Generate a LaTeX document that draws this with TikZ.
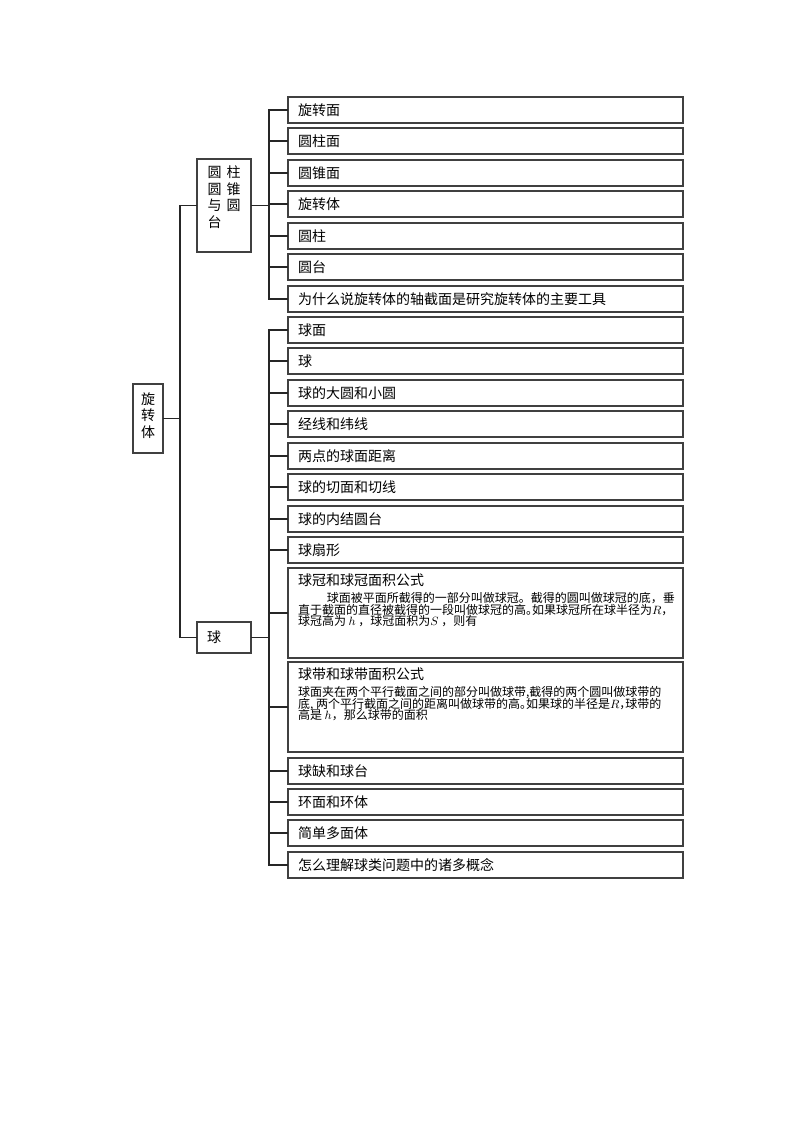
\documentclass[tikz,border=0pt]{standalone}
\usepackage{fontspec}
\setmainfont{Noto Sans CJK SC}
\newcommand\halfp[1]{{\addfontfeature{RawFeature=+halt}#1}}
\newcommand\parafont{\fontsize{9pt}{8.8pt}\selectfont\lineskiplimit=-20pt\relax}
\newcommand\titlefont{\fontsize{10.5pt}{12pt}\selectfont}
\tikzset{
  box/.style={draw=black!75, line width=1pt, outer sep=0pt, rectangle},
  item/.style={box, anchor=north west, minimum width=296.25pt, minimum height=19.5pt,
    inner xsep=7.5pt, inner ysep=0pt, text width=281.25pt, align=left,
    font=\fontsize{10.5pt}{12pt}\selectfont},
  pbox/.style={box, anchor=north west, inner xsep=7.5pt, inner ysep=0pt},
  link/.style={draw=black!85, line width=1pt},
}
\begin{document}
\begin{tikzpicture}[x=0.75pt,y=-0.75pt]
\useasboundingbox (0,0) rectangle (800,1132);
\fill[white] (0,0) rectangle (800,1132);

% root
\node[box, minimum width=22.5pt, minimum height=51.75pt, inner sep=0pt, font=\titlefont]
  (root) at (148,418.5)
  {\raisebox{1pt}[\height][\depth]{\begin{tabular}{@{}c@{}}旋\\转\\体\end{tabular}}};

% group nodes
\node[box, minimum width=40.5pt, minimum height=69.75pt, inner sep=0pt, font=\titlefont]
  (A) at (224,205.5)
  {\raisebox{5pt}[\height][\depth]{\begin{tabular}{@{}l@{\hspace{3.75pt}}l@{}}圆&柱\\圆&锥\\与&圆\\台&\end{tabular}}};
\node[box, minimum width=40.5pt, minimum height=23.25pt, inner xsep=7.5pt, inner ysep=0pt,
  text width=25.5pt, align=left, font=\titlefont]
  (B) at (224,637.5) {球};

% children of A
\node[item] (c1) at (288,97) {旋转面};
\node[item] (c2) at (288,128) {圆柱面};
\node[item] (c3) at (288,160) {圆锥面};
\node[item] (c4) at (288,191) {旋转体};
\node[item] (c5) at (288,223) {圆柱};
\node[item] (c6) at (288,254) {圆台};
\node[item] (c7) at (288,286) {为什么说旋转体的轴截面是研究旋转体的主要工具};

% children of B
\node[item] (c8) at (288,317) {球面};
\node[item] (c9) at (288,348) {球};
\node[item] (c10) at (288,380) {球的大圆和小圆};
\node[item] (c11) at (288,411) {经线和纬线};
\node[item] (c12) at (288,443) {两点的球面距离};
\node[item] (c13) at (288,474) {球的切面和切线};
\node[item] (c14) at (288,506) {球的内结圆台};
\node[item] (c15) at (288,537) {球扇形};
\node[pbox] (c16) at (288,568) {\parbox[c][67.5pt][t]{281.25pt}{%
  \vspace*{4.5pt}{\titlefont 球冠和球冠面积公式\par}\vspace{3.6pt}%
  {\parafont\hspace*{2.4em}球面被平面所截得的一部分叫做球冠。截得的圆叫做球冠的底，垂\\
  直于截面的直径被截得的一段叫做球冠的高\halfp{。}如果球冠所在球半径为$R$，\\
  球冠高为 $h$ ，球冠面积为$S$ ，则有\par}}};
\node[pbox] (c17) at (288,662) {\parbox[c][67.5pt][t]{281.25pt}{%
  \vspace*{4.5pt}{\titlefont 球带和球带面积公式\par}\vspace{3.6pt}%
  {\parafont 球面夹在两个平行截面之间的部分叫做球带,截得的两个圆叫做球带的\\
  底, 两个平行截面之间的距离叫做球带的高\halfp{。}如果球的半径是$R$\halfp{，}球带的\\
  高是 $h$，那么球带的面积\par}}};
\node[item] (c18) at (288,758) {球缺和球台};
\node[item] (c19) at (288,789) {环面和环体};
\node[item] (c20) at (288,820) {简单多面体};
\node[item] (c21) at (288,852) {怎么理解球类问题中的诸多概念};

% buses
\coordinate (bus1) at (180,0);
\coordinate (bus2) at (269,0);

\draw[link] (root.east) -- (root.east -| bus1);
\draw[link] (A.west) -- (A.west -| bus1) -- (B.west -| bus1) -- (B.west);

\draw[link] (A.east) -- (A.east -| bus2);
\draw[link] (c1.west) -- (c1.west -| bus2) -- (c7.west -| bus2) -- (c7.west);
\foreach \i in {2,...,6} { \draw[link] (c\i.west) -- (c\i.west -| bus2); }

\draw[link] (B.east) -- (B.east -| bus2);
\draw[link] (c8.west) -- (c8.west -| bus2) -- (c21.west -| bus2) -- (c21.west);
\foreach \i in {9,...,20} { \draw[link] (c\i.west) -- (c\i.west -| bus2); }
\end{tikzpicture}
\end{document}
